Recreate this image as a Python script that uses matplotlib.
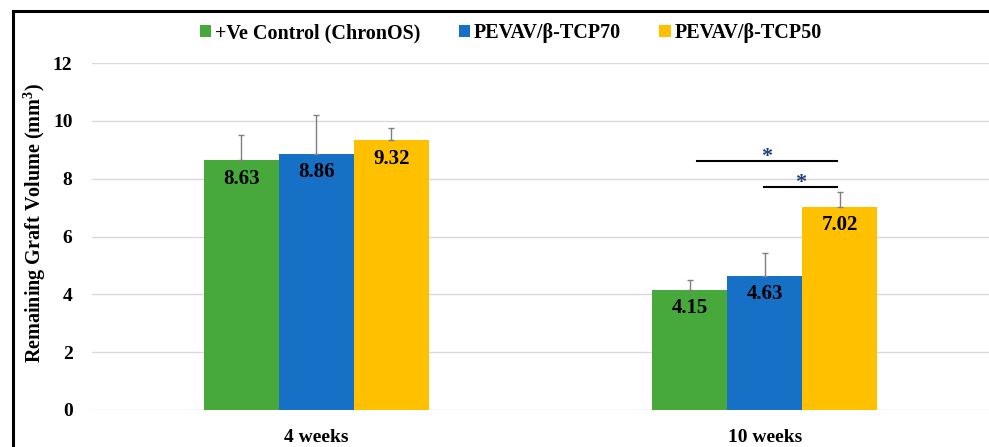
import numpy as np
import matplotlib.pyplot as plt
from matplotlib.patches import Rectangle

plt.rcParams['font.family'] = ['Liberation Serif', 'DejaVu Serif']
plt.rcParams['font.weight'] = 'bold'

groups = ["4 weeks", "10 weeks"]
series = ["+Ve Control (ChronOS)", "PEVAV/\u03b2-TCP70", "PEVAV/\u03b2-TCP50"]
control = [8.63, 4.15]
tcp70 = [8.86, 4.63]
tcp50 = [9.32, 7.02]
control_err = [0.88, 0.36]
tcp70_err = [1.34, 0.80]
tcp50_err = [0.43, 0.51]
colors = ["#47a93b", "#1670c6", "#ffc000"]

values = [control, tcp70, tcp50]
errors = [control_err, tcp70_err, tcp50_err]

fig = plt.figure(figsize=(9.89, 4.47), dpi=100)
ax = fig.add_axes([92 / 989, 1 - 410 / 447, 1 - 92 / 989, (410 - 63) / 447])

x = np.arange(len(groups))
w = 0.167
for i, (vals, errs, c, name) in enumerate(zip(values, errors, colors, series)):
    pos = x + (i - 1) * w
    ax.bar(pos, vals, w, color=c, label=name, zorder=2)
    ax.errorbar(pos, vals, yerr=[np.zeros(len(errs)), errs], fmt='none',
                ecolor='#7f7f7f', elinewidth=1, capsize=2.5, capthick=1, zorder=3)
    for p, v in zip(pos, vals):
        ax.annotate(f"{v:.2f}", (p, v), xytext=(0, -13), textcoords='offset points',
                    ha='center', va='center', fontsize=15, fontweight='bold')

# significance bars over the 10-week group
ax.plot([0.849, 1.160], [8.61, 8.61], color='black', lw=1.5, zorder=4)
ax.plot([0.998, 1.160], [7.72, 7.72], color='black', lw=1.5, zorder=4)
ax.text(1.0045, 8.74, "*", ha='center', va='center', fontsize=16, color='#1f3e7c')
ax.text(1.079, 7.85, "*", ha='center', va='center', fontsize=16, color='#1f3e7c')

ax.set_xlim(-0.5, 1.5)
ax.set_ylim(0, 12)
ax.set_yticks(range(0, 13, 2))
ax.set_xticks(x)
ax.set_xticklabels(groups)
ax.tick_params(axis='both', length=0, labelsize=14)
ax.tick_params(axis='x', pad=14)
ax.tick_params(axis='y', pad=14)
ax.yaxis.grid(True, color='#d9d9d9', lw=1, zorder=0)
ax.set_axisbelow(True)
for s in ax.spines.values():
    s.set_visible(False)
ax.set_ylabel("Remaining Graft Volume (mm$^\\mathregular{3}$)", fontsize=14.5,
              fontweight='bold')
ax.yaxis.set_label_coords(-0.049, 0.54)

fig.legend(loc='center', bbox_to_anchor=(511 / 989, 1 - 33 / 447), ncol=3,
           frameon=False, fontsize=14.5, handlelength=0.55, handleheight=0.55,
           columnspacing=1.9, handletextpad=0.2)

# outer frame (left and top edges only fall inside the figure)
fig.patches.append(Rectangle((12.5 / 989, -0.1), 2.0, 1 - 11 / 447 + 0.1,
                             transform=fig.transFigure, fill=False,
                             edgecolor='black', lw=2.2))

fig.savefig("out.png", dpi=100)
